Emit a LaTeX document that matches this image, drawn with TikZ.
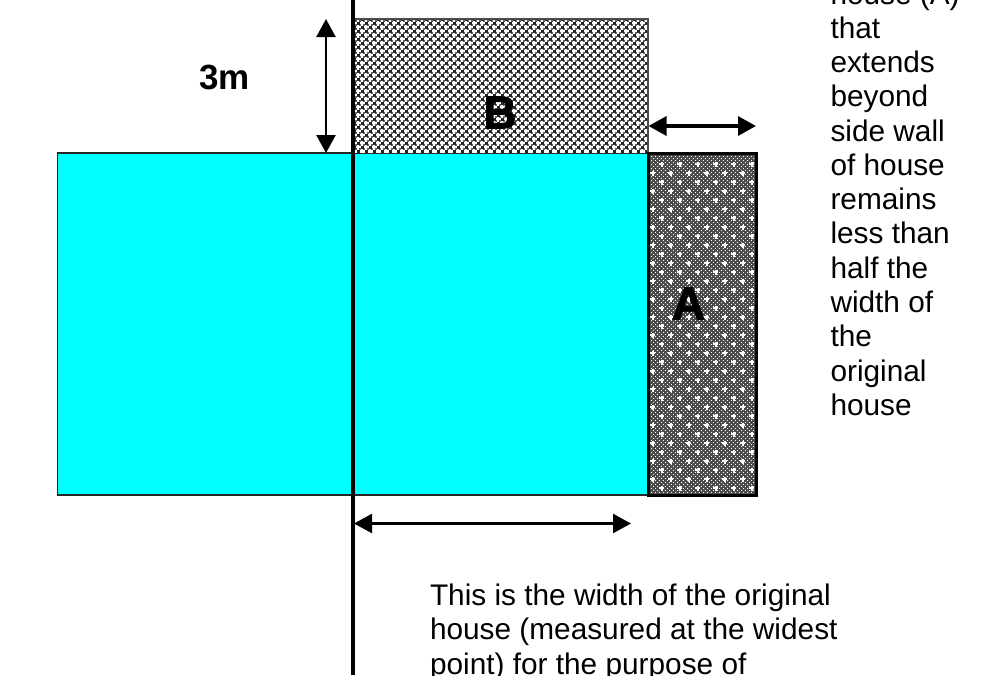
\documentclass[tikz,border=0pt]{standalone}
\usepackage{fontspec}
\setmainfont{Liberation Sans}
\newfontfamily\heavyfont[FakeBold=2]{Liberation Sans Bold}
\usetikzlibrary{arrows.meta}
\definecolor{housecyan}{RGB}{0,255,255}
\tikzset{
  x=1pt,y=-1pt,
  dblarrow/.style={line width=#1,{Triangle[length=18pt,width=19pt]}-{Triangle[length=18pt,width=19pt]}},
  label text/.style={inner sep=0pt,outer sep=0pt,align=left,anchor=north west,font=\fontsize{29.8}{34.27}\selectfont,text=black},
  big letter/.style={inner sep=0pt,font=\fontsize{46}{46}\heavyfont},
  thin wall/.style={draw=black!85,line width=1.8pt},
}
\begin{document}
\begin{tikzpicture}
\useasboundingbox (0,0) rectangle (1000,675);
\fill[white] (0,0) rectangle (1000,675);
% cyan house
\path[fill=housecyan,thin wall] (57.5,153) rectangle (648,495);
% B hatch
\begin{scope}
\clip (354,19) rectangle (648,153);
\fill[white] (354,19) rectangle (648,153);
\foreach \i in {0,...,73}{\foreach \j in {0,...,33}{
  \fill[black!62] (352+4*\i-0.95,17+4*\j-0.95) rectangle ++(1.9,1.9);
}}
\foreach \i in {0,...,37}{\foreach \j in {0,...,17}{
  \fill[black!85] (354+8*\i-1.5,19+8*\j-1.5) rectangle ++(3,3);
  \fill[black!85] (358+8*\i-1.5,23+8*\j-1.5) rectangle ++(3,3);
}}
\end{scope}
\draw[draw=black!70,line width=1.4pt] (354,19) -- (648,19) -- (648,153);
% A hatch
\begin{scope}
\clip (648,153) rectangle (756,495);
\fill[black!70] (648,153) rectangle (756,495);
\foreach \i in {0,...,27}{\foreach \j in {0,...,85}{
  \fill[white] (649+4*\i,154+4*\j) rectangle ++(1.1,1.1);
  \fill[white] (651+4*\i,156+4*\j) rectangle ++(1.1,1.1);
}}
\foreach \i in {0,...,6}{\foreach \j in {0,...,19}{
  \fill[white] (661.7+18*\i-0.9,164+18*\j-2.5) rectangle ++(1.8,5);
  \fill[white] (661.7+18*\i-2.5,164+18*\j-0.9) rectangle ++(5,1.8);
  \fill[white] (652.7+18*\i-0.9,173+18*\j-2.5) rectangle ++(1.8,5);
  \fill[white] (652.7+18*\i-2.5,173+18*\j-0.9) rectangle ++(5,1.8);
}}
\end{scope}
\draw[black,line width=3pt] (648,153) rectangle (756,495);
% vertical divider
\coordinate (divtop) at (353,0);
\coordinate (divbot) at (353,675);
\draw[black,line width=4.4pt] (divtop) -- (divbot);
% letters
\node[big letter] (bl) at (500,112.5) {B};
\node[big letter] (al) at (688.5,303.5) {A};
% arrows
\coordinate (a1s) at (326,19);
\coordinate (a1e) at (326,153);
\draw[dblarrow=2.4pt] (a1s) -- (a1e);
\coordinate (a2s) at (648.5,126);
\coordinate (a2e) at (756,126);
\draw[dblarrow=3.4pt] (a2s) -- (a2e);
\coordinate (a3s) at (354,523.5);
\coordinate (a3e) at (631,523.5);
\draw[dblarrow=2.4pt] (a3s) -- (a3e);
% texts
\node[inner sep=0pt,anchor=base west,font=\fontsize{35}{35}\selectfont\bfseries] (tm) at (199,89) {3m};
\node[label text] (side) at (830.5,-17.5) {house (A)\\that\\extends\\beyond\\side wall\\of house\\remains\\less than\\half the\\width of\\the\\original\\house};
\node[label text] (bot) at (430,584) {This is the width of the original\\house (measured at the widest\\point) for the purpose of};
\end{tikzpicture}
\end{document}
